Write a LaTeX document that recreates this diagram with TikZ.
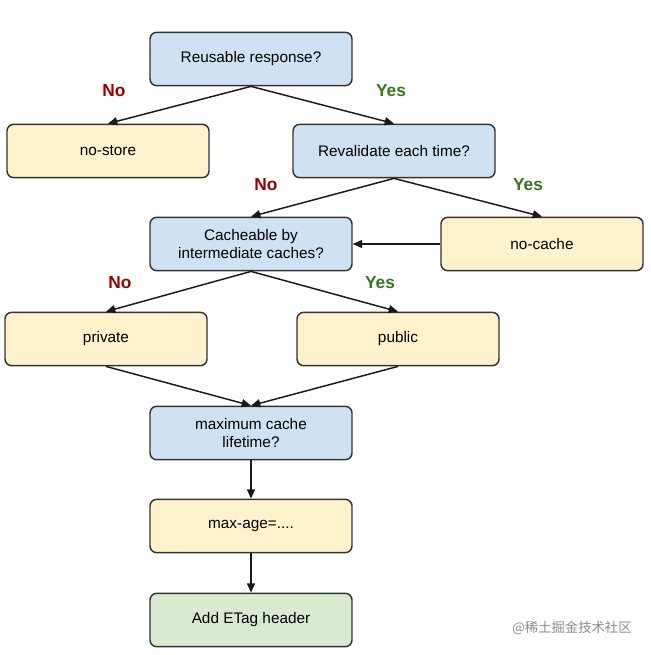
\documentclass[tikz,border=0pt]{standalone}
\usepackage{fontspec}
\setmainfont{Liberation Sans}
\newfontfamily\cjk{Noto Sans CJK SC}
\usetikzlibrary{arrows.meta}
\definecolor{qblue}{HTML}{CFE2F3}
\definecolor{ayellow}{HTML}{FFF2CC}
\definecolor{egreen}{HTML}{D9EAD3}
\definecolor{nored}{HTML}{990000}
\definecolor{yesgreen}{HTML}{38761D}
\begin{document}
\begin{tikzpicture}[x=0.75pt,y=-0.75pt,
  box/.style={draw=black!80,line width=1.1pt,rounded corners=5pt,minimum width=151.5pt,minimum height=40pt,align=center,font=\fontsize{11.5}{13.5}\selectfont},
  qbox/.style={box,fill=qblue},
  abox/.style={box,fill=ayellow},
  ebox/.style={box,fill=egreen},
  arr/.style={-{Triangle[length=7pt,width=6pt]},line width=1.1pt,black!90},
  lno/.style={text=nored,font=\bfseries\fontsize{13}{15}\selectfont},
  lyes/.style={text=yesgreen,font=\bfseries\fontsize{13}{15}\selectfont}]
\useasboundingbox[fill=white] (0,0) rectangle (650,655);
\node[qbox] (reuse) at (251,59) {Reusable response?};
\node[abox] (nostore) at (108,151) {no-store};
\node[qbox] (reval) at (394,151) {Revalidate each time?};
\node[qbox] (cache) at (251,244) {Cacheable by\\intermediate caches?};
\node[abox] (nocache) at (542,244) {no-cache};
\node[abox] (priv) at (106,339) {private};
\node[abox] (pub) at (398,339) {public};
\node[qbox] (maxl) at (251,433) {maximum cache\\lifetime?};
\node[abox] (maxage) at (251,526) {max-age=....};
\node[ebox] (etag) at (251,620) {Add ETag header};
\draw[arr] (reuse.south) -- (nostore.north);
\draw[arr] (reuse.south) -- (reval.north);
\draw[arr] (reval.south) -- (cache.north);
\draw[arr] (reval.south) -- (nocache.north);
\draw[arr] (nocache.west) -- (cache.east);
\draw[arr] (cache.south) -- (priv.north);
\draw[arr] (cache.south) -- (pub.north);
\draw[arr] (priv.south) -- (maxl.north);
\draw[arr] (pub.south) -- (maxl.north);
\draw[arr] (maxl) -- (maxage);
\draw[arr] (maxage) -- (etag);
\node[lno] (n1) at (114,91) {No};
\node[lyes] (y1) at (391,91) {Yes};
\node[lno] (n2) at (266,185) {No};
\node[lyes] (y2) at (528,185) {Yes};
\node[lno] (n3) at (120,283) {No};
\node[lyes] (y3) at (380,283) {Yes};
\node[text=black!45,font=\cjk\fontsize{10}{12}\selectfont] (wm) at (572,628) {@稀土掘金技术社区};
\end{tikzpicture}
\end{document}
